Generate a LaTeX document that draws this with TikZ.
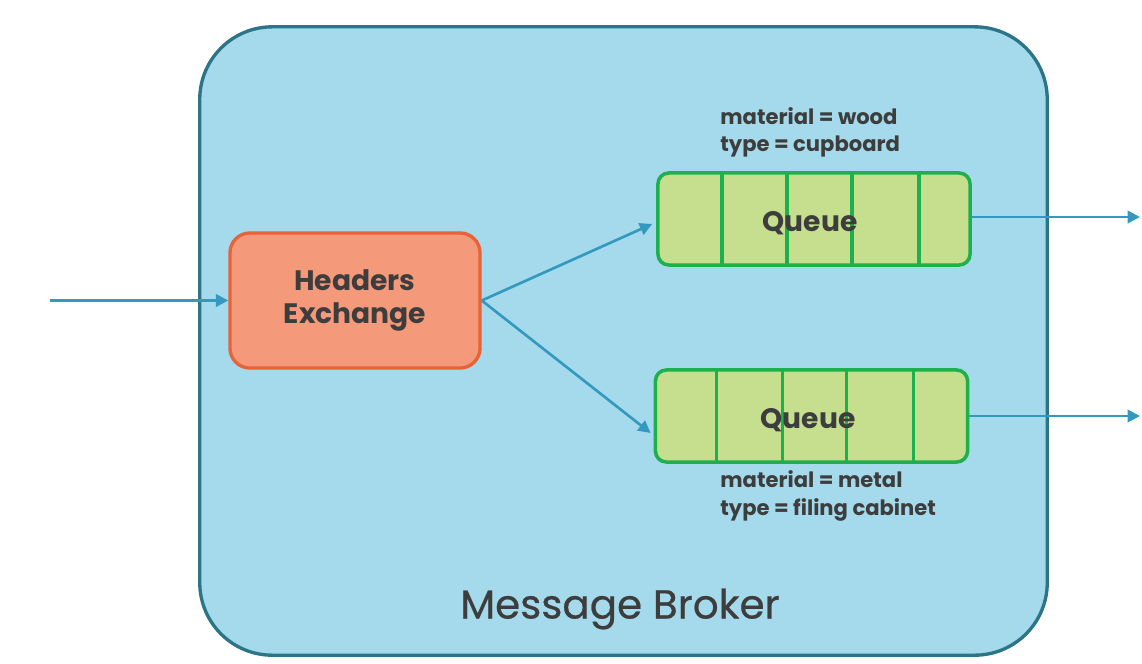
\documentclass[tikz,border=0pt]{standalone}
\usepackage{fontspec}
\setmainfont{Poppins}
\newfontfamily\pmed{Poppins}[FakeBold=0.5]
\usetikzlibrary{arrows.meta,calc}
\definecolor{brokerfill}{HTML}{A4DAEB}
\definecolor{brokerline}{HTML}{2C7589}
\definecolor{exfill}{HTML}{F4997A}
\definecolor{exline}{HTML}{E8623A}
\definecolor{qfill}{HTML}{C5DF8F}
\definecolor{qline}{HTML}{1DB04C}
\definecolor{arrowc}{HTML}{3399BF}
\definecolor{txt}{HTML}{3D3D3D}
\tikzset{
  broker/.style={draw=brokerline, fill=brokerfill, line width=1.9pt, rounded corners=1.45cm, minimum width=16.94cm, minimum height=12.56cm},
  exbox/.style={draw=exline, fill=exfill, line width=1.9pt, rounded corners=0.4cm, minimum width=5cm, minimum height=2.7cm, text=txt, font=\fontsize{16}{18.5}\selectfont\bfseries, align=center},
  qbox/.style={draw=qline, fill=qfill, line width=2pt, rounded corners=0.22cm, minimum width=6.24cm, minimum height=1.84cm},
  qdiv/.style={draw=qline, line width=2pt},
  qtext/.style={text=txt, font=\fontsize{16}{18}\selectfont\bfseries},
  lbl/.style={text=txt, font=\fontsize{12}{15.5}\selectfont\bfseries, align=left, anchor=west, inner sep=0pt},
  conn/.style={draw=arrowc, line width=1.5pt, -{Triangle[length=7pt,width=7pt]}},
}
\begin{document}
\begin{tikzpicture}[x=0.01cm,y=-0.01cm]
\useasboundingbox (0,0) rectangle (2284,1326);
\node[broker] (broker) at (1247,682) {};
\node[text=txt, font=\pmed\fontsize{23}{26}\selectfont] (blabel) at (1240,1218) {Message Broker};
\node[exbox] (ex) at (710,601) {Headers\\Exchange};
\node[qbox] (q1) at (1628,438) {};
\node[qbox] (q2) at (1623,832) {};
\foreach \q/\a/\b/\c/\d in {q1/-184/-54/76/210, q2/-190/-58/70/204}{
  \foreach \dx in {\a,\b,\c,\d}{
    \draw[qdiv] ($(\q.north)+(\dx,0)$) -- ($(\q.south)+(\dx,0)$);
  }
}
\node[qtext] (q1t) at (1620,446) {Queue};
\node[qtext] (q2t) at (1616,840) {Queue};
\node[lbl] (l1) at (1440,264) {material = wood\\type = cupboard};
\node[lbl] (l2) at (1440,992) {material = metal\\type = filing cabinet};
\coordinate (in) at (100,601);
\coordinate (out1) at (2280,434);
\coordinate (out2) at (2280,832);
\draw[conn] (in) -- (ex.west);
\draw[conn] (ex.east) -- ($(q1.west)+(-8,10)$);
\draw[conn] (ex.east) -- ($(q2.west)+(-6,34)$);
\draw[conn] ($(q1.east)+(0,-4)$) -- (out1);
\draw[conn] ($(q2.east)+(0,0)$) -- (out2);
\end{tikzpicture}
\end{document}
